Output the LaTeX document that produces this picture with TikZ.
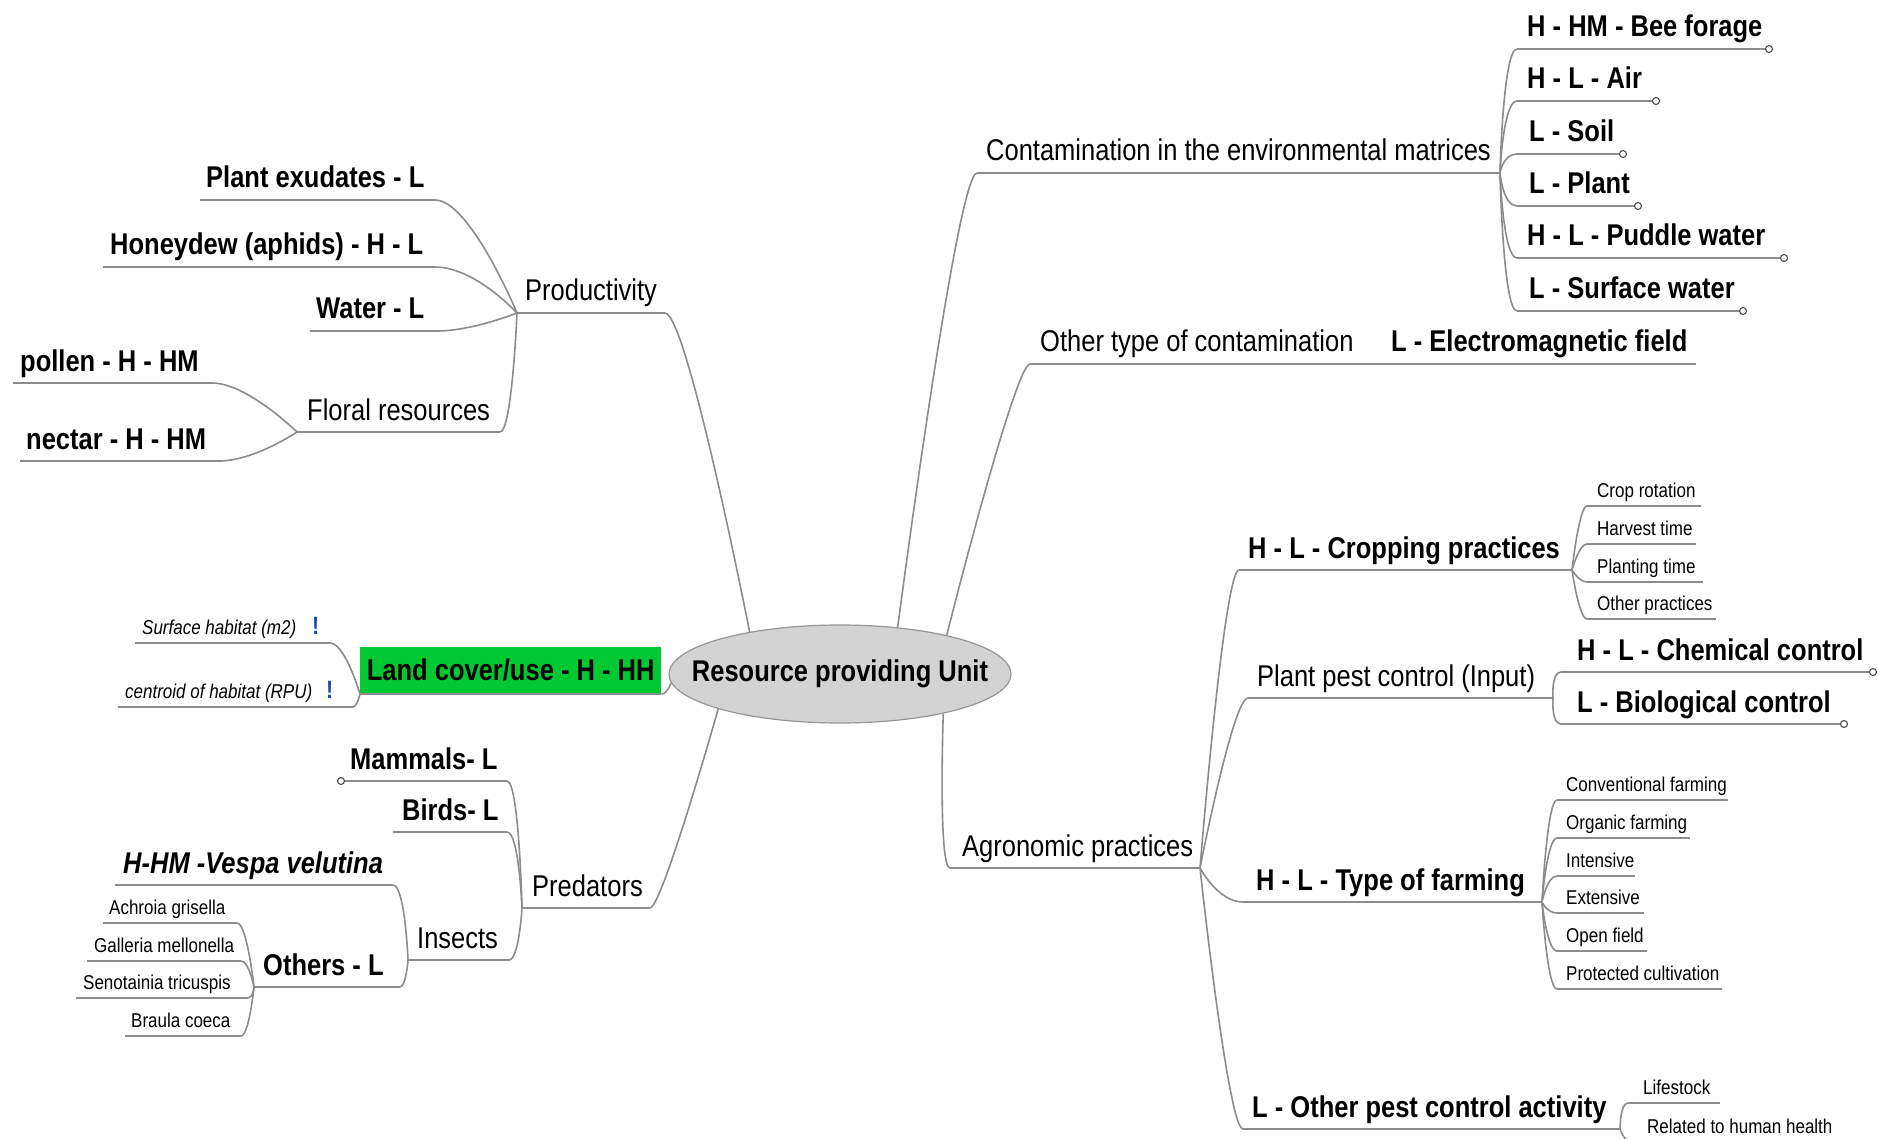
\documentclass[tikz,border=0pt]{standalone}
\usepackage{fontspec}
\setmainfont{Liberation Sans}[FakeStretch=0.85]
\usetikzlibrary{shapes.geometric}

\definecolor{linegray}{RGB}{140,140,140}
\definecolor{rootfill}{RGB}{211,211,211}
\definecolor{rootedge}{RGB}{150,150,150}
\definecolor{landgreen}{RGB}{0,200,50}
\definecolor{iconblue}{RGB}{35,75,170}

% one topic: name, style, text x, underline left x, underline right x, underline y, text
\newcommand{\topic}[7]{%
  \coordinate (#1-l) at (#4,#6);
  \coordinate (#1-r) at (#5,#6);
  \node[#2] (#1) at (#3,#6) {#7};
  \draw[uline] (#1-l) -- (#1-r);
}
% curved branch: from a child end to its parent point, leaving the child horizontally
\newcommand{\branch}[3]{%
  \draw[conn] (#1) .. controls +(#3,0) and (#2) .. (#2);
}

\begin{document}
\begin{tikzpicture}[x=1pt,y=-1pt,
  uline/.style={draw=linegray, line width=1.6pt},
  conn/.style={draw=linegray, line width=1.6pt},
  tReg/.style={font=\fontsize{30}{36}\selectfont, inner sep=0pt, anchor=base west, yshift=12pt},
  tBold/.style={tReg, font=\fontsize{30}{36}\selectfont\bfseries},
  tBoldIt/.style={tReg, font=\fontsize{30}{36}\selectfont\bfseries\itshape},
  tSmall/.style={font=\fontsize{20}{24}\selectfont, inner sep=0pt, anchor=base west, yshift=9pt},
  tSmallIt/.style={tSmall, font=\fontsize{20}{24}\selectfont\itshape},
  icon/.style={font=\fontsize{25}{30}\selectfont\bfseries, text=iconblue, inner sep=0pt, anchor=base west, yshift=9pt},
  dotmark/.style={circle, draw=black!70, fill=white, line width=1.1pt, minimum size=7pt, inner sep=0pt},
  rootnode/.style={ellipse, draw=rootedge, line width=1.2pt, fill=rootfill, minimum width=342pt, minimum height=98pt, inner xsep=-28pt, inner ysep=0pt, font=\fontsize{30}{36}\selectfont\bfseries},
  landbox/.style={rectangle, fill=landgreen, anchor=south west, minimum width=301pt, minimum height=47pt, inner sep=0pt, font=\fontsize{30}{36}\selectfont\bfseries}
]
\useasboundingbox (0,0) rectangle (1878,1139);
\fill[white] (0,0) rectangle (1878,1139);
\begin{scope}
\clip (0,0) rectangle (1878,1139);

% central topic
\node[rootnode] (root) at (840,674) {Resource providing Unit};

% ---- Productivity ----
\topic{prod}{tReg}{525}{517}{665}{313}{Productivity}
\branch{prod-r}{root.155}{22}
\topic{pex}{tBold}{206}{200}{435}{200}{Plant exudates - L}
\branch{pex-r}{prod-l}{35}
\topic{hon}{tBold}{110}{103}{435}{267}{Honeydew (aphids) - H - L}
\branch{hon-r}{prod-l}{40}
\topic{wat}{tBold}{316}{310}{437}{331}{Water - L}
\branch{wat-r}{prod-l}{35}
\topic{flo}{tReg}{307}{297}{500}{432}{Floral resources}
\branch{flo-r}{prod-l}{12}
\topic{pol}{tBold}{20}{13}{212}{383}{pollen - H - HM}
\branch{pol-r}{flo-l}{35}
\topic{nec}{tBold}{26}{20}{219}{461}{nectar - H - HM}
\branch{nec-r}{flo-l}{35}

% ---- Land cover ----
\node[landbox] (land) at (360,694) {Land cover/use - H - HH};
\draw[uline] (land.south west) -- (land.south east);
\branch{land.south east}{root.183}{6}
\topic{sfc}{tSmallIt}{142}{135}{330}{643}{Surface habitat (m2)}
\node[icon] (sfc-i) at (312,643) {!};
\branch{sfc-r}{land.south west}{15}
\topic{cen}{tSmallIt}{125}{118}{353}{707}{centroid of habitat (RPU)}
\node[icon] (cen-i) at (326,707) {!};
\branch{cen-r}{land.south west}{4}

% ---- Predators ----
\topic{pred}{tReg}{532}{522}{650}{908}{Predators}
\branch{pred-r}{root.-164}{12}
\topic{mam}{tBold}{350}{341}{507}{781}{Mammals- L}
\branch{mam-r}{pred-l}{12}
\node[dotmark] (mam-o) at (mam-l) {};
\topic{bir}{tBold}{402}{393}{507}{832}{Birds- L}
\branch{bir-r}{pred-l}{12}
\topic{ins}{tReg}{417}{408}{509}{960}{Insects}
\branch{ins-r}{pred-l}{10}
\topic{ves}{tBoldIt}{123}{115}{393}{885}{H-HM -Vespa velutina}
\branch{ves-r}{ins-l}{12}
\topic{oth}{tBold}{263}{254}{400}{987}{Others - L}
\branch{oth-r}{ins-l}{6}
\topic{ach}{tSmall}{109}{103}{237}{923}{Achroia grisella}
\branch{ach-r}{oth-l}{10}
\topic{gal}{tSmall}{94}{87}{241}{961}{Galleria mellonella}
\branch{gal-r}{oth-l}{8}
\topic{sen}{tSmall}{83}{76}{248}{998}{Senotainia tricuspis}
\branch{sen-r}{oth-l}{5}
\topic{bra}{tSmall}{131}{125}{241}{1036}{Braula coeca}
\branch{bra-r}{oth-l}{8}

% ---- Contamination in the environmental matrices ----
\topic{cont}{tReg}{986}{977}{1500}{173}{Contamination in the environmental matrices}
\branch{cont-l}{root.39}{-20}
\topic{bee}{tBold}{1527}{1517}{1769}{49}{H - HM - Bee forage}
\branch{bee-l}{cont-r}{-14}
\node[dotmark] (bee-o) at (bee-r) {};
\topic{air}{tBold}{1527}{1517}{1656}{101}{H - L - Air}
\branch{air-l}{cont-r}{-14}
\node[dotmark] (air-o) at (air-r) {};
\topic{soil}{tBold}{1529}{1517}{1623}{154}{L - Soil}
\branch{soil-l}{cont-r}{-14}
\node[dotmark] (soil-o) at (soil-r) {};
\topic{plant}{tBold}{1529}{1517}{1638}{206}{L - Plant}
\branch{plant-l}{cont-r}{-14}
\node[dotmark] (plant-o) at (plant-r) {};
\topic{pud}{tBold}{1527}{1517}{1784}{258}{H - L - Puddle water}
\branch{pud-l}{cont-r}{-14}
\node[dotmark] (pud-o) at (pud-r) {};
\topic{surf}{tBold}{1529}{1517}{1743}{311}{L - Surface water}
\branch{surf-l}{cont-r}{-14}
\node[dotmark] (surf-o) at (surf-r) {};

% ---- Other type of contamination ----
\topic{otc}{tReg}{1040}{1030}{1370}{364}{Other type of contamination}
\branch{otc-l}{root.20}{-15}
\topic{elm}{tBold}{1391}{1370}{1696}{364}{L - Electromagnetic field}

% ---- Agronomic practices ----
\topic{agr}{tReg}{962}{950}{1200}{868}{Agronomic practices}
\branch{agr-l}{root.-21}{-12}
\topic{crp}{tBold}{1248}{1239}{1572}{570}{H - L - Cropping practices}
\branch{crp-l}{agr-r}{-15}
\topic{ppc}{tReg}{1257}{1248}{1553}{698}{Plant pest control (Input)}
\branch{ppc-l}{agr-r}{-15}
\topic{tof}{tBold}{1256}{1243}{1542}{902}{H - L - Type of farming}
\branch{tof-l}{agr-r}{-25}
\topic{opc}{tBold}{1252}{1243}{1620}{1129}{L - Other pest control activity}
\branch{opc-l}{agr-r}{-15}

% cropping practices
\topic{cro}{tSmall}{1597}{1587}{1701}{506}{Crop rotation}
\branch{cro-l}{crp-r}{-8}
\topic{har}{tSmall}{1597}{1587}{1696}{544}{Harvest time}
\branch{har-l}{crp-r}{-8}
\topic{pla}{tSmall}{1597}{1587}{1703}{582}{Planting time}
\branch{pla-l}{crp-r}{-8}
\topic{opr}{tSmall}{1597}{1587}{1716}{619}{Other practices}
\branch{opr-l}{crp-r}{-8}

% plant pest control
\topic{che}{tBold}{1577}{1561}{1873}{672}{H - L - Chemical control}
\branch{che-l}{ppc-r}{-10}
\node[dotmark] (che-o) at (che-r) {};
\topic{bio}{tBold}{1577}{1561}{1844}{724}{L - Biological control}
\branch{bio-l}{ppc-r}{-10}
\node[dotmark] (bio-o) at (bio-r) {};

% type of farming
\topic{conv}{tSmall}{1566}{1557}{1728}{800}{Conventional farming}
\branch{conv-l}{tof-r}{-10}
\topic{org}{tSmall}{1566}{1557}{1690}{838}{Organic farming}
\branch{org-l}{tof-r}{-10}
\topic{int}{tSmall}{1566}{1557}{1635}{876}{Intensive}
\branch{int-l}{tof-r}{-10}
\topic{ext}{tSmall}{1566}{1557}{1644}{913}{Extensive}
\branch{ext-l}{tof-r}{-10}
\topic{opf}{tSmall}{1566}{1557}{1647}{951}{Open field}
\branch{opf-l}{tof-r}{-10}
\topic{prot}{tSmall}{1566}{1557}{1722}{989}{Protected cultivation}
\branch{prot-l}{tof-r}{-10}

% other pest control activity
\topic{life}{tSmall}{1643}{1628}{1720}{1103}{Lifestock}
\branch{life-l}{opc-r}{-8}
\begin{scope}
  \clip (1600,1106) rectangle (1830,1139);
  \topic{rel}{tSmall}{1647}{1632}{1860}{1142}{Related to human health}
\end{scope}
\branch{rel-l}{opc-r}{-8}

\end{scope}
\end{tikzpicture}
\end{document}
